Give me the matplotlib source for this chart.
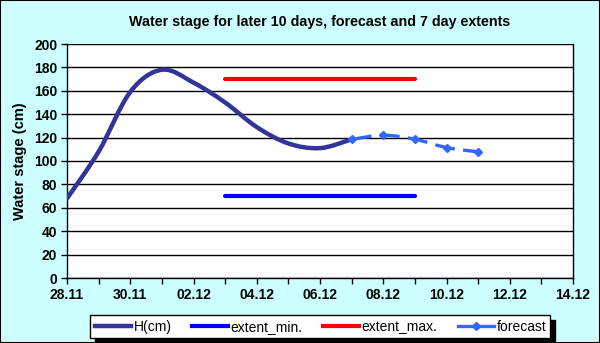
import numpy as np
import matplotlib
matplotlib.use("Agg")
import matplotlib.pyplot as plt
import matplotlib.dates as mdates
from matplotlib.path import Path
from matplotlib.patches import PathPatch, Rectangle
from matplotlib.lines import Line2D

plt.rcParams['font.family'] = ['Liberation Sans', 'DejaVu Sans']

# observed water stage, last 10 days
h_dates = ['2009-11-28', '2009-11-29', '2009-11-30', '2009-12-01', '2009-12-02',
           '2009-12-03', '2009-12-04', '2009-12-05', '2009-12-06', '2009-12-07']
h_values = [68, 108, 159, 178, 167, 150, 129, 115, 111, 118.5]

# forecast
fc_dates = ['2009-12-07', '2009-12-08', '2009-12-09', '2009-12-10', '2009-12-11']
fc_values = [118.5, 122, 118.6, 111.5, 107.8]

# 7 day extents
ext_dates = ['2009-12-03', '2009-12-09']
ext_min = [70, 70]
ext_max = [170, 170]

labels = ['H(cm)', 'extent_min.', 'extent_max.', 'forecast']


def to_num(ds):
    return mdates.date2num(np.array(ds, dtype='datetime64[D]'))


def smooth_path(x, y):
    # Excel-like smoothed line: cubic bezier segments through the points
    p = np.column_stack([x, y])
    n = len(p)
    verts = [p[0]]
    codes = [Path.MOVETO]
    for i in range(n - 1):
        p0 = p[i - 1] if i > 0 else p[i]
        p3 = p[i + 2] if i + 2 < n else p[i + 1]
        c1 = p[i] + (p[i + 1] - p0) / 6
        c2 = p[i + 1] - (p3 - p[i]) / 6
        verts += [c1, c2, p[i + 1]]
        codes += [Path.CURVE4] * 3
    return Path(verts, codes)


fig = plt.figure(figsize=(6, 3.43), dpi=100, facecolor='#CCFFFF')
ax = fig.add_axes([67 / 600, 1 - 278 / 343, 506 / 600, 234 / 343])
ax.set_facecolor('white')

c_h = '#333399'
c_min = '#0000FF'
c_max = '#FF0000'
c_fc = '#3366FF'

ax.add_patch(PathPatch(smooth_path(to_num(h_dates), h_values), fill=False,
                       edgecolor=c_h, lw=3.2, capstyle='round', zorder=4))
ax.add_patch(PathPatch(smooth_path(to_num(fc_dates), fc_values), fill=False,
                       edgecolor=c_fc, lw=2.4, linestyle=(0, (6, 2.5)), zorder=3))
ax.plot(to_num(fc_dates), fc_values, linestyle='none', marker='D',
        markersize=4.5, color=c_fc, zorder=5)
ax.plot(to_num(ext_dates), ext_min, color=c_min, lw=3, solid_capstyle='round', zorder=3)
ax.plot(to_num(ext_dates), ext_max, color=c_max, lw=3, solid_capstyle='round', zorder=3)

ax.set_xlim(to_num(['2009-11-28', '2009-12-14']))
ax.set_ylim(0, 200)
ax.set_yticks(np.arange(0, 201, 20))
ax.xaxis.set_major_locator(mdates.DayLocator(interval=2))
ax.xaxis.set_minor_locator(mdates.DayLocator())
ax.xaxis.set_major_formatter(mdates.DateFormatter('%d.%m'))
ax.grid(axis='y', color='black', lw=1)
ax.set_axisbelow(True)

for s in ax.spines.values():
    s.set_color('black')
    s.set_linewidth(1)
ax.spines['top'].set_visible(False)

ax.tick_params(axis='both', which='both', direction='out', length=4, width=1, color='black')
ax.tick_params(axis='both', which='major', labelsize=10, pad=3)
for lab in ax.get_xticklabels() + ax.get_yticklabels():
    lab.set_fontweight('bold')

ax.set_ylabel('Water stage (cm)', fontsize=10.5, fontweight='bold', labelpad=5)
fig.text(0.533, 0.936, 'Water stage for later 10 days, forecast and 7 day extents',
         ha='center', va='center', fontsize=10.3, fontweight='bold')

handles = [Line2D([], [], color=c_h, lw=3.2),
           Line2D([], [], color=c_min, lw=3),
           Line2D([], [], color=c_max, lw=3),
           Line2D([], [], color=c_fc, lw=2.4, marker='D', markersize=4.5)]
leg = fig.legend(handles, labels, loc='center', bbox_to_anchor=(0.534, 0.048), ncol=4,
                 fontsize=10, frameon=True, fancybox=False, edgecolor='black',
                 framealpha=1, handlelength=2.6, handletextpad=0.2, columnspacing=1.45,
                 borderpad=0.3, shadow={'color': 'black', 'alpha': 1, 'ox': 3, 'oy': -3})
leg.get_frame().set_linewidth(1)

fig.patches.append(Rectangle((0, 0), 1, 1, transform=fig.transFigure, fill=False,
                             edgecolor='black', lw=1.5))

fig.savefig('out.png', dpi=100, facecolor=fig.get_facecolor())
